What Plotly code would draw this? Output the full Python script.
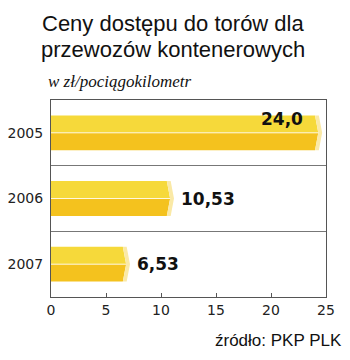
import plotly.graph_objects as go

years = ["2005", "2006", "2007"]
values = [24.0, 10.53, 6.53]
value_labels = ["24,0", "10,53", "6,53"]
x_ticks = [0, 5, 10, 15, 20, 25]

TOP = "#F6D93A"
BOT = "#F4C21E"
CAP = "#FAE9A6"
H = 0.265   # half bar thickness (category units)
TIP = 0.3   # chevron depth (value units)
CAPW = 0.35

fig = go.Figure()
for i, (yr, v) in enumerate(zip(years, values)):
    c = i
    fig.add_trace(go.Scatter(
        x=[-TIP, 0, v, v + TIP, -TIP], y=[c, c - H, c - H, c, c],
        fill="toself", fillcolor=TOP, line=dict(width=0), mode="lines",
        hoverinfo="skip", showlegend=False))
    fig.add_trace(go.Scatter(
        x=[-TIP, 0, v, v + TIP, -TIP], y=[c, c + H, c + H, c, c],
        fill="toself", fillcolor=BOT, line=dict(width=0), mode="lines",
        hoverinfo="skip", showlegend=False))
    fig.add_trace(go.Scatter(
        x=[v, v + CAPW, v + CAPW + TIP, v + CAPW, v, v + TIP, v],
        y=[c - H, c - H, c, c + H, c + H, c, c - H],
        fill="toself", fillcolor=CAP, line=dict(width=0), mode="lines",
        hoverinfo="skip", showlegend=False))
    fig.add_trace(go.Scatter(
        x=[-TIP, v + TIP], y=[c, c], mode="lines",
        line=dict(color="rgba(255,255,255,0.8)", width=1),
        hoverinfo="skip", showlegend=False))

VFONT = dict(family="DejaVu Sans", size=17, color="#111111")
annotations = []
for i, (v, lab) in enumerate(zip(values, value_labels)):
    if v > 20:
        annotations.append(dict(x=v - 0.9, y=i - 0.21, text="<b>" + lab + "</b>",
                                xanchor="right", yanchor="middle", showarrow=False,
                                xref="x", yref="y", font=VFONT))
    else:
        annotations.append(dict(x=v + 1.1, y=i, text="<b>" + lab + "</b>",
                                xanchor="left", yanchor="middle", showarrow=False,
                                xref="x", yref="y", font=VFONT))

plot_w = 350 - 51 - 24
plot_h = 360 - 100 - 63
def px(xp):
    return (xp - 51) / plot_w
def py(yp):
    return (360 - 63 - yp) / plot_h

TFONT = dict(family="Liberation Sans", size=22, color="#111111")
annotations += [
    dict(x=px(173), y=py(23), xref="paper", yref="paper", xanchor="center", yanchor="middle",
         text="Ceny dostępu do torów dla", showarrow=False, font=TFONT),
    dict(x=px(173), y=py(49), xref="paper", yref="paper", xanchor="center", yanchor="middle",
         text="przewozów kontenerowych", showarrow=False, font=TFONT),
    dict(x=px(46), y=py(81), xref="paper", yref="paper", xanchor="left", yanchor="middle",
         text="<i>w zł/pociągokilometr</i>", showarrow=False,
         font=dict(family="Liberation Serif", size=17, color="#111111")),
    dict(x=px(344), y=py(340), xref="paper", yref="paper", xanchor="right", yanchor="middle",
         text="źródło: PKP PLK", showarrow=False,
         font=dict(family="Liberation Sans", size=17, color="#111111")),
]

fig.update_layout(
    width=350, height=360,
    margin=dict(l=51, r=24, t=100, b=63),
    paper_bgcolor="white", plot_bgcolor="white",
    showlegend=False,
    annotations=annotations,
    xaxis=dict(range=[0, 25], tickvals=x_ticks, ticktext=[str(t) for t in x_ticks],
               showgrid=False, zeroline=False, showline=True, linecolor="#555555",
               linewidth=1, mirror=True, ticks="inside", ticklen=4, tickcolor="#555555",
               automargin=False,
               tickfont=dict(family="DejaVu Sans", size=14, color="#222222")),
    yaxis=dict(range=[2.5, -0.5], tickvals=[0, 1, 2], ticktext=years,
               showgrid=False, zeroline=False, showline=True, linecolor="#555555",
               linewidth=1, mirror=True, ticks="", ticklabelstandoff=4,
               automargin=False,
               tickfont=dict(family="DejaVu Sans", size=14, color="#222222"),
               minor=dict(tickvals=[0.5, 1.5], showgrid=True, gridcolor="#777777",
                          gridwidth=1)),
)

fig.write_html("out.html")
